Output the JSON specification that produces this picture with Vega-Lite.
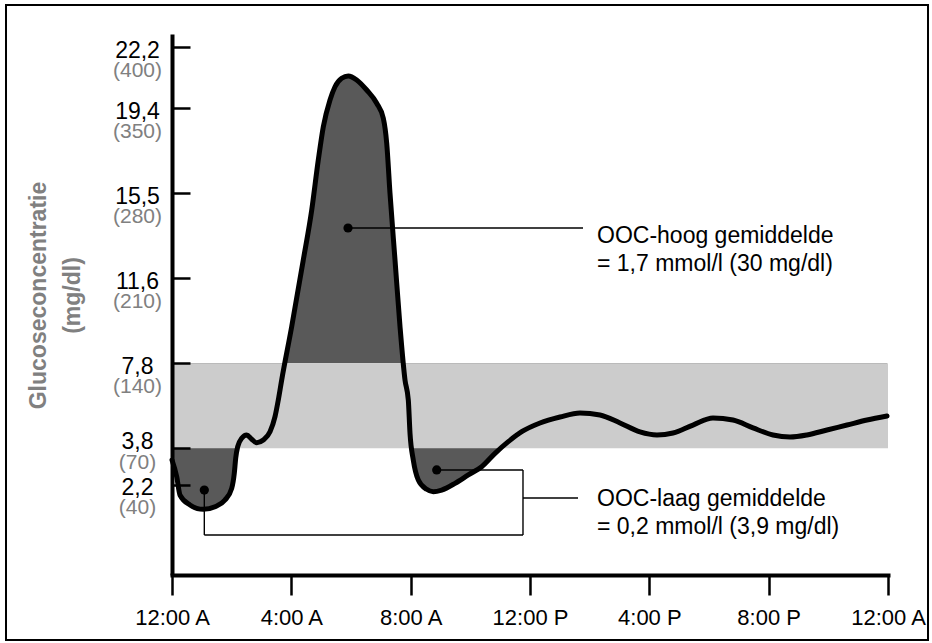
{
  "$schema": "https://vega.github.io/schema/vega-lite/v6.json",
  "width": 716,
  "height": 541,
  "autosize": {"type": "none"},
  "padding": {"left": 172, "top": 34, "right": 44, "bottom": 68},
  "background": "white",
  "config": {"view": {"stroke": null}, "font": "Liberation Sans"},
  "datasets": {
    "curve": [
      {"h": 0.0, "v": 60.4}, {"h": 0.158, "v": 46.7}, {"h": 0.268, "v": 31.6}, {"h": 0.603, "v": 23.4},
      {"h": 1.049, "v": 19.8}, {"h": 1.441, "v": 22.0}, {"h": 1.776, "v": 27.5}, {"h": 2.001, "v": 37.1},
      {"h": 2.088, "v": 49.5}, {"h": 2.135, "v": 61.8}, {"h": 2.202, "v": 71.4}, {"h": 2.336, "v": 78.3},
      {"h": 2.504, "v": 81.0}, {"h": 2.672, "v": 77.5}, {"h": 2.839, "v": 74.7}, {"h": 3.06, "v": 76.9},
      {"h": 3.285, "v": 83.7}, {"h": 3.453, "v": 96.1}, {"h": 3.563, "v": 109.8}, {"h": 3.677, "v": 126.3},
      {"h": 4.012, "v": 170.2}, {"h": 4.401, "v": 225.1}, {"h": 4.683, "v": 266.2}, {"h": 4.904, "v": 307.4},
      {"h": 5.072, "v": 334.8}, {"h": 5.296, "v": 356.8}, {"h": 5.464, "v": 367.7}, {"h": 5.688, "v": 374.7},
      {"h": 5.91, "v": 376.6}, {"h": 6.191, "v": 373.3}, {"h": 6.526, "v": 365.0}, {"h": 6.862, "v": 354.1},
      {"h": 7.083, "v": 341.7}, {"h": 7.197, "v": 321.2}, {"h": 7.307, "v": 280.0}, {"h": 7.475, "v": 225.1},
      {"h": 7.643, "v": 170.2}, {"h": 7.81, "v": 126.3}, {"h": 7.921, "v": 109.8}, {"h": 7.978, "v": 82.4},
      {"h": 8.088, "v": 60.4}, {"h": 8.256, "v": 44.0}, {"h": 8.537, "v": 36.3}, {"h": 8.759, "v": 34.3},
      {"h": 9.04, "v": 35.7}, {"h": 9.486, "v": 41.2}, {"h": 9.932, "v": 48.1}, {"h": 10.381, "v": 54.9},
      {"h": 10.827, "v": 65.9}, {"h": 11.273, "v": 75.5}, {"h": 11.722, "v": 83.7}, {"h": 12.335, "v": 90.9},
      {"h": 13.006, "v": 95.8}, {"h": 13.676, "v": 99.1}, {"h": 14.346, "v": 97.5}, {"h": 15.017, "v": 90.9},
      {"h": 15.687, "v": 83.5}, {"h": 16.257, "v": 81.0}, {"h": 16.793, "v": 82.6}, {"h": 17.463, "v": 89.2},
      {"h": 18.134, "v": 95.0}, {"h": 18.804, "v": 93.3}, {"h": 19.475, "v": 86.8}, {"h": 20.145, "v": 81.0},
      {"h": 20.715, "v": 79.3}, {"h": 21.285, "v": 81.0}, {"h": 21.955, "v": 85.1}, {"h": 22.626, "v": 89.2},
      {"h": 23.296, "v": 93.3}, {"h": 23.967, "v": 96.6}
    ],
    "ticks": [
      {"v": 400, "mmol": "22,2", "mg": "(400)"},
      {"v": 350, "mmol": "19,4", "mg": "(350)"},
      {"v": 280, "mmol": "15,5", "mg": "(280)"},
      {"v": 210, "mmol": "11,6", "mg": "(210)"},
      {"v": 140, "mmol": "7,8", "mg": "(140)"},
      {"v": 70, "mmol": "3,8", "mg": "(70)"},
      {"v": 40, "mmol": "2,2", "mg": "(40)"}
    ],
    "band": [{"h": 0, "h2": 24, "v": 70, "v2": 140}],
    "dots": [{"h": 5.9, "v": 251.4}, {"h": 1.083, "v": 35.7}, {"h": 8.873, "v": 52.2}],
    "leaders": [
      {"h": 5.9, "v": 251.4, "h2": 13.777, "v2": 251.4},
      {"h": 1.083, "v": 35.7, "h2": 1.083, "v2": -1.3},
      {"h": 1.083, "v": -1.3, "h2": 11.765, "v2": -1.3},
      {"h": 11.765, "v": -1.3, "h2": 11.765, "v2": 52.2},
      {"h": 8.873, "v": 52.2, "h2": 11.765, "v2": 52.2},
      {"h": 11.765, "v": 29.1, "h2": 13.609, "v2": 29.1}
    ],
    "notes": [
      {"h": 14.246, "v": 239.1, "text": "OOC-hoog gemiddelde"},
      {"h": 14.246, "v": 216.0, "text": "= 1,7 mmol/l (30 mg/dl)"},
      {"h": 14.246, "v": 22.6, "text": "OOC-laag gemiddelde"},
      {"h": 14.246, "v": -0.5, "text": "= 0,2 mmol/l (3,9 mg/dl)"}
    ]
  },
  "layer": [
    {
      "encoding": {
        "x": {
          "field": "h", "type": "quantitative",
          "scale": {"domain": [0, 24], "nice": false, "zero": false},
          "axis": {
            "values": [0, 4, 8, 12, 16, 20, 24],
            "labelExpr": "datum.value == 0 || datum.value == 24 ? '12:00 A' : datum.value == 12 ? '12:00 P' : (datum.value % 12) + ':00 ' + (datum.value < 12 ? 'A' : 'P')",
            "title": null, "grid": false, "zindex": 1,
            "domainColor": "black", "domainWidth": 4, "domainCap": "square",
            "tickColor": "black", "tickWidth": 2.5, "tickSize": 20,
            "labelFontSize": 22, "labelColor": "black", "labelPadding": 12, "labelFlush": false,
            "labelFont": "Liberation Sans"
          }
        },
        "y": {
          "field": "v", "type": "quantitative",
          "scale": {"domain": [-34.25, 411.1], "nice": false, "zero": false},
          "axis": {
            "values": [40, 70, 140, 210, 280, 350, 400],
            "labels": false, "grid": false, "zindex": 1,
            "domainColor": "black", "domainWidth": 4,
            "tickColor": "black", "tickWidth": 2.5, "tickSize": -18,
            "title": ["Glucoseconcentratie", "(mg/dl)"],
            "titleFont": "Liberation Sans", "titleFontSize": 23, "titleFontWeight": "bold",
            "titleColor": "#808080", "titleAngle": -90, "titleAlign": "center", "titleBaseline": "middle",
            "titleLineHeight": 34, "titleX": -134, "titleY": 261
          }
        }
      },
      "layer": [
        {
          "data": {"name": "curve"},
          "mark": {"type": "area", "interpolate": "monotone", "color": "#595959"},
          "encoding": {"y2": {"datum": 140}}
        },
        {
          "data": {"name": "band"},
          "mark": {"type": "rect", "color": "#cccccc"},
          "encoding": {"x2": {"field": "h2"}, "y2": {"field": "v2"}}
        },
        {
          "data": {"name": "curve"},
          "mark": {"type": "line", "interpolate": "monotone", "color": "black", "strokeWidth": 5, "strokeCap": "round", "strokeJoin": "round"},
          "encoding": {}
        },
        {
          "data": {"name": "leaders"},
          "mark": {"type": "rule", "color": "black", "strokeWidth": 1.4},
          "encoding": {"x2": {"field": "h2"}, "y2": {"field": "v2"}}
        },
        {
          "data": {"name": "dots"},
          "mark": {"type": "point", "filled": true, "color": "black", "size": 85, "opacity": 1},
          "encoding": {}
        },
        {
          "data": {"name": "notes"},
          "mark": {"type": "text", "align": "left", "baseline": "alphabetic", "fontSize": 23, "color": "black", "font": "Liberation Sans"},
          "encoding": {"text": {"field": "text", "type": "nominal"}}
        }
      ]
    },
    {
      "data": {"values": [{"frame": 1}]},
      "mark": {"type": "rect", "filled": false, "stroke": "black", "strokeWidth": 2},
      "encoding": {
        "x": {"datum": -5.564, "type": "quantitative"},
        "x2": {"datum": 25.341},
        "y": {"datum": 435.0, "type": "quantitative"},
        "y2": {"datum": -87.76}
      }
    },
    {
      "data": {"name": "ticks"},
      "transform": [{"filter": "datum.v != 70"}],
      "mark": {"type": "text", "align": "center", "baseline": "alphabetic", "dx": -34.5, "dy": 10.5, "fontSize": 23, "color": "black", "font": "Liberation Sans"},
      "encoding": {
        "x": {"datum": 0, "type": "quantitative"},
        "y": {"field": "v", "type": "quantitative"},
        "text": {"field": "mmol", "type": "nominal"}
      }
    },
    {
      "data": {"name": "ticks"},
      "transform": [{"filter": "datum.v != 70"}],
      "mark": {"type": "text", "align": "center", "baseline": "alphabetic", "dx": -34.5, "dy": 29.5, "fontSize": 21, "color": "#808080", "font": "Liberation Sans"},
      "encoding": {
        "x": {"datum": 0, "type": "quantitative"},
        "y": {"field": "v", "type": "quantitative"},
        "text": {"field": "mg", "type": "nominal"}
      }
    },
    {
      "data": {"name": "ticks"},
      "transform": [{"filter": "datum.v == 70"}],
      "mark": {"type": "text", "align": "center", "baseline": "alphabetic", "dx": -34.5, "dy": 1, "fontSize": 23, "color": "black", "font": "Liberation Sans"},
      "encoding": {
        "x": {"datum": 0, "type": "quantitative"},
        "y": {"field": "v", "type": "quantitative"},
        "text": {"field": "mmol", "type": "nominal"}
      }
    },
    {
      "data": {"name": "ticks"},
      "transform": [{"filter": "datum.v == 70"}],
      "mark": {"type": "text", "align": "center", "baseline": "alphabetic", "dx": -34.5, "dy": 21, "fontSize": 21, "color": "#808080", "font": "Liberation Sans"},
      "encoding": {
        "x": {"datum": 0, "type": "quantitative"},
        "y": {"field": "v", "type": "quantitative"},
        "text": {"field": "mg", "type": "nominal"}
      }
    }
  ]
}
